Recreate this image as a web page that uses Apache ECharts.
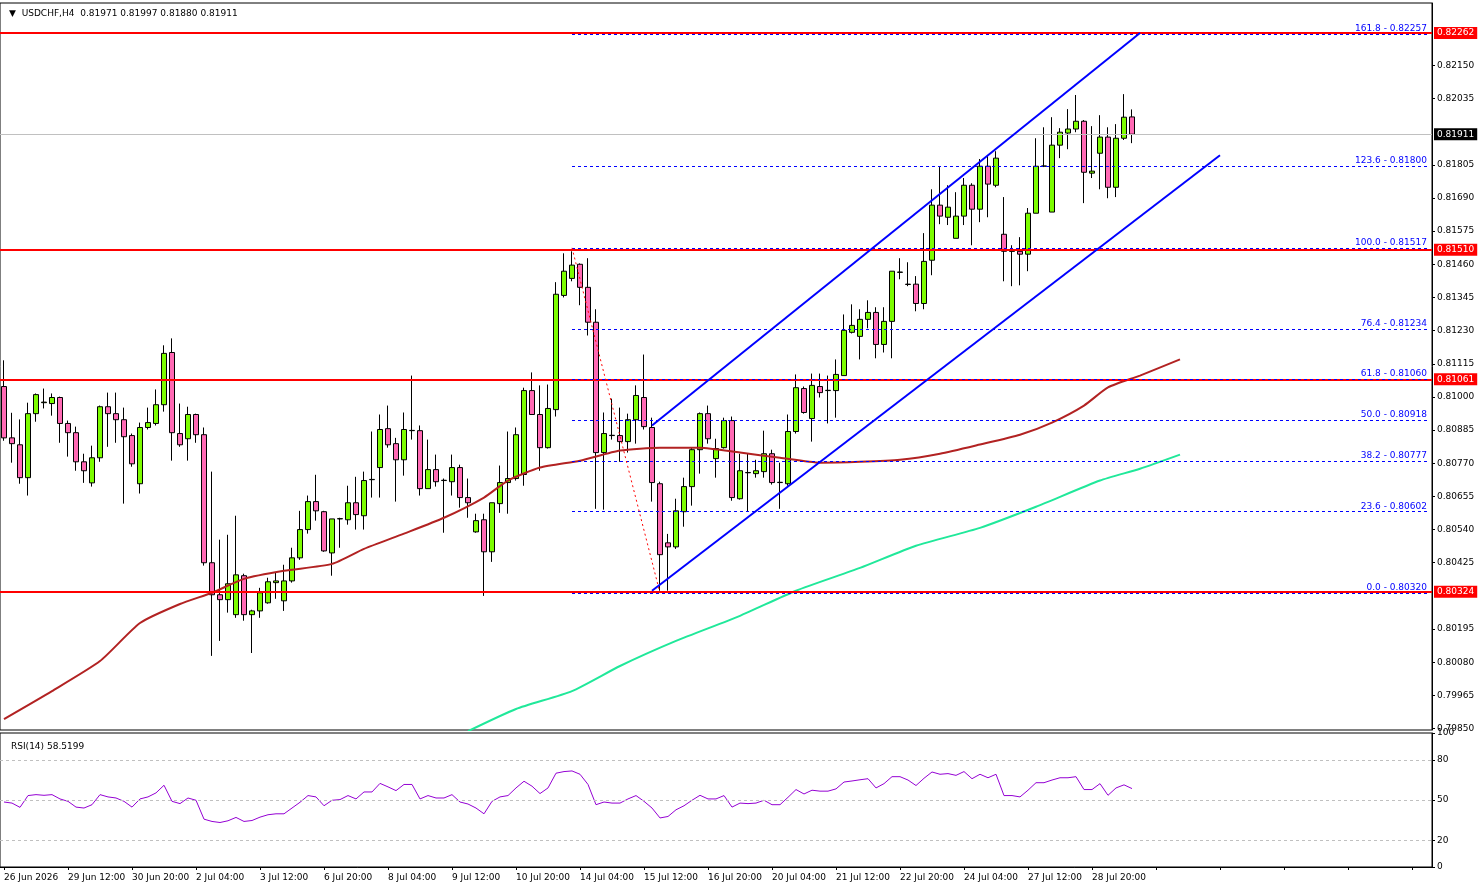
<!DOCTYPE html>
<html><head><meta charset="utf-8">
<script src="https://cdn.jsdelivr.net/npm/echarts@6/dist/echarts.min.js"></script>
<style>html,body{margin:0;padding:0;background:#fff}#c{width:1479px;height:888px}</style>
</head><body><div id="c"></div>
<script>
// [open, close, low, high]
const candles = [
[0.81036,0.80858,0.80848,0.81127],[0.80858,0.80838,0.80772,0.80945],[0.80834,0.80720,0.80699,0.80922],[0.80720,0.80942,0.80658,0.80980],
[0.80942,0.81008,0.80914,0.81012],[0.80980,0.80982,0.80960,0.81029],[0.80977,0.80998,0.80935,0.81012],[0.80998,0.80908,0.80841,0.81001],
[0.80908,0.80876,0.80793,0.80918],[0.80876,0.80775,0.80744,0.80897],[0.80775,0.80744,0.80702,0.80803],[0.80702,0.80789,0.80689,0.80831],
[0.80789,0.80966,0.80775,0.80970],[0.80966,0.80942,0.80827,0.81015],[0.80942,0.80921,0.80841,0.81015],[0.80921,0.80862,0.80630,0.80963],
[0.80866,0.80768,0.80758,0.80873],[0.80699,0.80894,0.80665,0.80911],[0.80894,0.80911,0.80887,0.80963],[0.80908,0.80973,0.80901,0.81026],
[0.80973,0.81151,0.80949,0.81179],[0.81154,0.80876,0.80779,0.81203],[0.80873,0.80834,0.80827,0.80977],[0.80855,0.80939,0.80779,0.80966],
[0.80939,0.80869,0.80841,0.80942],[0.80869,0.80425,0.80415,0.80894],[0.80425,0.80314,0.80102,0.80741],[0.80314,0.80297,0.80154,0.80505],
[0.80297,0.80352,0.80252,0.80522],[0.80245,0.80383,0.80234,0.80588],[0.80380,0.80245,0.80224,0.80387],[0.80245,0.80258,0.80112,0.80262],
[0.80258,0.80321,0.80234,0.80338],[0.80286,0.80359,0.80283,0.80373],[0.80356,0.80362,0.80300,0.80390],[0.80293,0.80362,0.80258,0.80418],
[0.80362,0.80442,0.80356,0.80477],[0.80442,0.80540,0.80435,0.80605],[0.80540,0.80637,0.80526,0.80658],[0.80637,0.80605,0.80571,0.80730],
[0.80602,0.80466,0.80463,0.80605],[0.80459,0.80577,0.80380,0.80577],[0.80577,0.80578,0.80477,0.80581],[0.80574,0.80633,0.80557,0.80692],
[0.80633,0.80592,0.80540,0.80723],[0.80588,0.80710,0.80540,0.80741],[0.80713,0.80714,0.80651,0.80880],[0.80755,0.80887,0.80651,0.80939],
[0.80890,0.80834,0.80824,0.80970],[0.80838,0.80782,0.80637,0.80858],[0.80782,0.80887,0.80727,0.80946],[0.80883,0.80884,0.80852,0.81074],
[0.80883,0.80682,0.80658,0.80901],[0.80682,0.80748,0.80682,0.80852],[0.80748,0.80706,0.80689,0.80800],[0.80710,0.80711,0.80529,0.80717],
[0.80706,0.80755,0.80658,0.80800],[0.80755,0.80651,0.80616,0.80765],[0.80651,0.80633,0.80581,0.80717],[0.80532,0.80571,0.80529,0.80595],
[0.80574,0.80463,0.80310,0.80595],[0.80463,0.80633,0.80428,0.80633],[0.80630,0.80703,0.80598,0.80762],[0.80703,0.80717,0.80595,0.80880],
[0.80717,0.80869,0.80710,0.80894],[0.80731,0.81022,0.80692,0.81032],[0.81022,0.80939,0.80939,0.81085],[0.80939,0.80824,0.80744,0.81040],
[0.80824,0.80960,0.80821,0.81043],[0.80956,0.81356,0.80932,0.81398],[0.81352,0.81436,0.81345,0.81498],[0.81411,0.81457,0.81401,0.81505],
[0.81460,0.81380,0.81318,0.81463],[0.81380,0.81259,0.81213,0.81481],[0.81259,0.80807,0.80612,0.81304],[0.80807,0.80873,0.80609,0.80946],
[0.80866,0.80867,0.80852,0.80994],[0.80866,0.80845,0.80775,0.80963],[0.80845,0.80921,0.80807,0.80942],[0.80921,0.81005,0.80838,0.81040],
[0.80998,0.80897,0.80887,0.81147],[0.80894,0.80703,0.80637,0.80928],[0.80699,0.80453,0.80328,0.80706],[0.80494,0.80480,0.80328,0.80525],
[0.80480,0.80605,0.80473,0.80647],[0.80602,0.80689,0.80550,0.80720],[0.80689,0.80817,0.80623,0.80824],[0.80817,0.80942,0.80734,0.80946],
[0.80942,0.80855,0.80838,0.80970],[0.80786,0.80821,0.80720,0.80855],[0.80824,0.80918,0.80821,0.80928],[0.80918,0.80651,0.80640,0.80932],
[0.80647,0.80744,0.80644,0.80803],[0.80737,0.80738,0.80602,0.80803],[0.80734,0.80744,0.80720,0.80782],[0.80741,0.80803,0.80720,0.80883],
[0.80803,0.80703,0.80696,0.80817],[0.80703,0.80704,0.80612,0.80772],[0.80699,0.80880,0.80692,0.80939],[0.80880,0.81032,0.80873,0.81078],
[0.81029,0.80946,0.80942,0.81036],[0.80925,0.81040,0.80845,0.81081],[0.81036,0.81015,0.80998,0.81081],[0.81022,0.81023,0.80908,0.81074],
[0.81022,0.81078,0.80928,0.81130],[0.81074,0.81231,0.81074,0.81286],[0.81224,0.81248,0.81220,0.81321],[0.81210,0.81269,0.81130,0.81304],
[0.81269,0.81293,0.81238,0.81335],[0.81293,0.81182,0.81134,0.81311],[0.81182,0.81262,0.81154,0.81311],[0.81262,0.81436,0.81134,0.81436],
[0.81432,0.81433,0.81408,0.81481],[0.81391,0.81390,0.81384,0.81467],[0.81391,0.81324,0.81297,0.81419],[0.81324,0.81470,0.81304,0.81568],
[0.81474,0.81665,0.81422,0.81720],[0.81665,0.81627,0.81599,0.81797],[0.81623,0.81658,0.81596,0.81734],[0.81550,0.81627,0.81550,0.81710],
[0.81627,0.81734,0.81596,0.81759],[0.81734,0.81651,0.81526,0.81741],[0.81651,0.81800,0.81606,0.81825],[0.81800,0.81738,0.81623,0.81838],
[0.81734,0.81828,0.81727,0.81852],[0.81564,0.81505,0.81401,0.81693],[0.81505,0.81506,0.81384,0.81526],[0.81505,0.81495,0.81387,0.81554],
[0.81495,0.81637,0.81436,0.81655],[0.81637,0.81800,0.81637,0.81897],[0.81800,0.81801,0.81797,0.81935],[0.81641,0.81873,0.81641,0.81970],
[0.81873,0.81918,0.81828,0.81932],[0.81915,0.81929,0.81859,0.81998],[0.81929,0.81956,0.81918,0.82047],[0.81956,0.81779,0.81672,0.81960],
[0.81776,0.81783,0.81759,0.81939],[0.81845,0.81901,0.81720,0.81977],[0.81901,0.81727,0.81689,0.81935],[0.81727,0.81897,0.81693,0.81946],
[0.81897,0.81970,0.81891,0.82050],[0.81971,0.81911,0.81880,0.81997]
];
const rsi = [48.5,47.7,44.5,53.3,54,53.5,54,50.8,49,44.7,44,46.5,54,52.3,51.5,49,44.7,50.8,52.3,55.3,61,49,47.3,51.5,49.8,35.7,34,33.2,34.5,37,34,34.7,37.2,39,39.7,39.7,44,48.3,53.3,52.3,45.7,49.8,50.3,53.3,50.8,56,56,62.4,59.8,57,61.6,61.6,50.8,53.3,51.5,51.5,54,48.5,47,44,39.7,49,52.3,53.3,59,64,60.3,54.8,59,70,71.2,71.7,69.2,61.6,46.5,48.5,47.7,47.7,50.8,53.3,49,44,36.6,37.7,42.7,45.7,49.8,53.5,50.8,50.8,53.3,44.7,47.7,47.3,47.7,49.8,46.5,46.5,52,57.8,54.5,57.3,56.6,56.6,58.3,63.4,64.2,65.1,65.9,59,62.2,67.4,67.4,64.9,60.8,66.2,70.9,69.2,69.7,68.4,71.2,65.9,69.2,66.6,69.2,53.3,53.3,52.3,57.3,62.9,62.9,64.9,66.6,66.6,67.4,57.8,57.8,62.2,53.5,59,61.3,58.52];
// [bar index, value]
const maSlow = [[0,0.79883],[6,0.79980],[12,0.80084],[17,0.80216],[22,0.80282],[26,0.80321],[30,0.80369],[35,0.80397],[41,0.80421],[45,0.80473],[50,0.80526],[55,0.80581],[60,0.80651],[63,0.80710],[67,0.80755],[72,0.80779],[77,0.80814],[82,0.80824],[87,0.80824],[92,0.80807],[97,0.80789],[102,0.80772],[107,0.80775],[112,0.80782],[117,0.80803],[122,0.80835],[127,0.80869],[131,0.80911],[135,0.80970],[138,0.81033],[142,0.81074],[147,0.81130]];
const maLong = [[58,0.79841],[64,0.79918],[71,0.79980],[77,0.80067],[84,0.80154],[92,0.80241],[99,0.80328],[107,0.80407],[114,0.80484],[122,0.80546],[129,0.80619],[137,0.80710],[142,0.80751],[147,0.80800]];
const levels = [0.82262,0.81510,0.81061,0.80324];
const lastPrice = 0.81911;
const fibLevels = ['161.8','123.6','100.0','76.4','61.8','50.0','38.2','23.6','0.0'];
const fibPrices = [0.82257,0.81800,0.81517,0.81234,0.81060,0.80918,0.80777,0.80602,0.80320];
const fibStart = 71;
const channelUpper = [[81,0.80901],[142,0.82262]];
const channelLower = [[81,0.80328],[152,0.81838]];
const swingLine = [[71,0.81517],[82,0.80320]];
const priceTicks = [0.79850,0.79965,0.80080,0.80195,0.80425,0.80540,0.80655,0.80770,0.80885,0.81000,0.81115,0.81230,0.81345,0.81460,0.81575,0.81690,0.81805,0.82035,0.82150];
const timeLabels = ['26 Jun 2026','29 Jun 12:00','30 Jun 20:00','2 Jul 04:00','3 Jul 12:00','6 Jul 20:00','8 Jul 04:00','9 Jul 12:00','10 Jul 20:00','14 Jul 04:00','15 Jul 12:00','16 Jul 20:00','20 Jul 04:00','21 Jul 12:00','22 Jul 20:00','24 Jul 04:00','27 Jul 12:00','28 Jul 20:00'];
const rsiTicks = [0,20,50,80,100];
const nBars = 179;

const cats = Array.from({length:nBars},(_,i)=>String(i));
const F = 'Tahoma, "DejaVu Sans", sans-serif';
const chart = echarts.init(document.getElementById('c'));
const boxLabel = (bg,v)=>({show:true,position:'end',distance:2,formatter:v.toFixed(5),color:'#fff',backgroundColor:bg,padding:[2,3,1,3],fontSize:9,fontFamily:F});
const hLines = levels.map(v=>({yAxis:v,lineStyle:{color:'#ff0000',width:2,type:'solid'},label:boxLabel('#ff0000',v)}));
hLines.push({yAxis:lastPrice,lineStyle:{color:'#c0c0c0',width:1,type:'solid'},label:boxLabel('#000',lastPrice)});
const fibLines = fibPrices.map((v,k)=>[{coord:[fibStart,v],lineStyle:{color:'#0000ff',width:1,type:[3,3]},label:{show:true,position:'insideEndTop',distance:1,formatter:fibLevels[k]+' - '+v.toFixed(5),color:'#0000ff',fontSize:9,fontFamily:F}},{coord:[nBars-1,v]}]);
const segs = [channelUpper,channelLower].map(s=>[{coord:s[0],lineStyle:{color:'#0000ff',width:2,type:'solid'}},{coord:s[1]}]);
segs.push([{coord:swingLine[0],lineStyle:{color:'#ff0000',width:1,type:[2,3]}},{coord:swingLine[1]}]);

chart.setOption({
  animation:false,
  textStyle:{fontFamily:F},
  title:[{text:'▼  USDCHF,H4  0.81971 0.81997 0.81880 0.81911',left:4,top:4,textStyle:{fontSize:9,fontWeight:'normal',color:'#000',fontFamily:F}},
         {text:'RSI(14) 58.5199',left:6,top:737,textStyle:{fontSize:9,fontWeight:'normal',color:'#000',fontFamily:F}}],
  grid:[{left:0,width:1432,top:3,height:727,show:true,borderColor:'#000',borderWidth:1},
        {left:0,width:1432,top:733,height:134,show:true,borderColor:'#000',borderWidth:1}],
  xAxis:[{type:'category',gridIndex:0,data:cats,boundaryGap:true,axisLine:{show:false},axisTick:{show:false},axisLabel:{show:false},splitLine:{show:false}},
         {type:'category',gridIndex:1,data:cats,boundaryGap:true,axisLine:{show:true,lineStyle:{color:'#000'}},
          axisTick:{show:true,interval:7,alignWithLabel:true,length:3,lineStyle:{color:'#000'}},
          axisLabel:{interval:7,align:'left',margin:6,fontSize:9,color:'#000',fontFamily:F,formatter:(v,i)=>timeLabels[i/8]||''}}],
  yAxis:[{type:'value',gridIndex:0,position:'right',min:0.79845,max:0.82366,scale:true,
          axisLine:{show:true,lineStyle:{color:'#000'}},axisTick:{show:true,length:3,customValues:priceTicks,lineStyle:{color:'#000'}},
          axisLabel:{customValues:priceTicks,formatter:v=>v.toFixed(5),fontSize:9,color:'#000',margin:5,fontFamily:F},splitLine:{show:false}},
         {type:'value',gridIndex:1,position:'right',min:0,max:100,
          axisLine:{show:true,lineStyle:{color:'#000'}},axisTick:{show:true,length:3,customValues:rsiTicks,lineStyle:{color:'#000'}},
          axisLabel:{customValues:rsiTicks,fontSize:9,color:'#000',margin:5,fontFamily:F,
                     formatter:v=>String(v),verticalAlign:'middle'},splitLine:{show:false}}],
  series:[
    {type:'candlestick',xAxisIndex:0,yAxisIndex:0,data:candles,barWidth:6,
     itemStyle:{color:'#7cfc00',color0:'#ff69b4',borderColor:'#000',borderColor0:'#000',borderWidth:1},
     markLine:{silent:true,precision:5,symbol:['none','none'],data:hLines.concat(fibLines).concat(segs)}},
    {type:'line',xAxisIndex:0,yAxisIndex:0,data:maSlow,showSymbol:false,smooth:0.2,lineStyle:{color:'#b22222',width:2}},
    {type:'line',xAxisIndex:0,yAxisIndex:0,data:maLong,showSymbol:false,smooth:0.2,lineStyle:{color:'#20e89a',width:2}},
    {type:'line',xAxisIndex:1,yAxisIndex:1,data:rsi,showSymbol:false,lineStyle:{color:'#9400d3',width:1},
     markLine:{silent:true,symbol:['none','none'],label:{show:false},lineStyle:{color:'#c0c0c0',type:[3,3],width:1},data:[{yAxis:80},{yAxis:50},{yAxis:20}]}}
  ]
});
</script></body></html>
